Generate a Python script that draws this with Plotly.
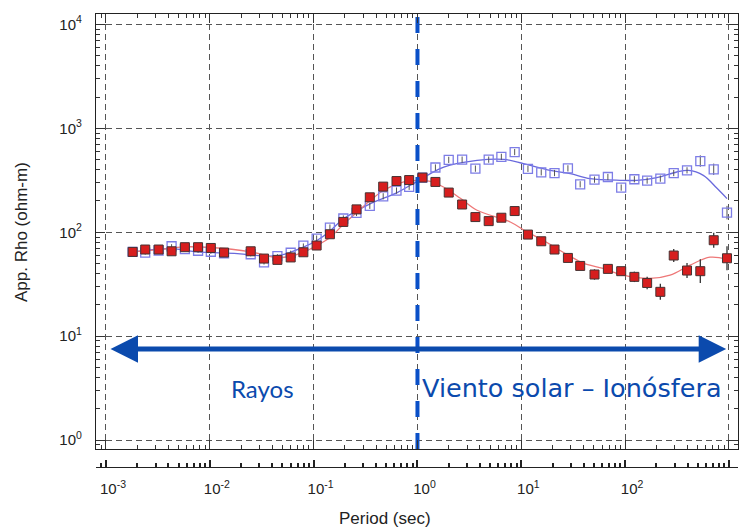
import numpy as np
import plotly.graph_objects as go

# ---------------- data ----------------
period = [0.001807, 0.002388, 0.003214, 0.004285, 0.005754, 0.007709, 0.01023, 0.01371,
          0.02477, 0.03327, 0.04477, 0.06012, 0.07962, 0.1069, 0.1435, 0.1932, 0.2588,
          0.3475, 0.4677, 0.6281, 0.8318, 1.117, 1.489, 2.000, 2.692, 3.614, 4.853, 6.427,
          8.630, 11.59, 15.56, 20.89, 28.12, 36.90, 50.70, 68.23, 91.62, 122.7, 162.9,
          218.3, 293.8, 394.5, 529.7, 712.9, 957.2]

rho_red = [64.7, 68.2, 68.2, 65.6, 71.8, 71.8, 70.6, 63.8, 65.6, 55.8, 54.2, 57.2, 64.2,
           74.5, 95.7, 125.7, 166, 217, 275, 311, 318, 336, 305, 241, 185, 140, 128, 138,
           160, 95, 81.9, 68.2, 56.6, 47.4, 39.2, 44.4, 42.2, 37.2, 32.5, 26.7, 59.7, 42.8,
           42.2, 83.8, 56.2]

rho_blue = [64.7, 63.8, 66.7, 73.3, 68.7, 66.4, 64.9, 62.8, 61.4, 51.2, 58.8, 63.5, 74.5,
            86.9, 111, 135.6, 153.5, 179.8, 221.9, 251.7, 273.8, 335.7, 420, 497.7, 500,
            409.8, 500, 532, 591.6, 408, 377.6, 371.5, 412, 289.4, 321, 340.4, 269, 323.6,
            314.4, 328.3, 371.5, 394.5, 484.8, 403.6, 154.5]

# error half-widths in decades (log10 units)
err_red = [0.02] * 33 + [0.03, 0.05, 0.04, 0.03, 0.05, 0.06, 0.077, 0.063, 0.072, 0.115,
                         0.072, 0.115]
err_blue = [0.02] * 13 + [0.03] * 29 + [0.055, 0.055, 0.065]

# smooth model curves
curve_red_x = [0.001807, 0.003162, 0.005623, 0.01023, 0.02477, 0.04477, 0.06012, 0.08071,
               0.1086, 0.1456, 0.1941, 0.2630, 0.3532, 0.4742, 0.7379, 0.9934, 1.334,
               1.778, 2.590, 3.750, 7.834, 11.34, 16.29, 21.71, 29.58, 39.43, 61.43,
               95.66, 173.8, 270.8, 421.7, 656.8, 957.2]
curve_red_y = [64.7, 67.9, 72.3, 71.3, 64.7, 56.9, 58.8, 64.7, 75.0, 90.1, 119.4, 156.6,
               203.1, 253.6, 304.8, 316.2, 309.3, 272.7, 212.3, 162.7, 125.6, 100.7, 83.8,
               70.2, 58.8, 50.4, 44.8, 38.6, 35.9, 38.6, 48.2, 57.5, 55.0]

curve_blue_x = [0.001807, 0.004217, 0.007621, 0.01846, 0.03589, 0.04819, 0.08071, 0.1086,
                0.1403, 0.1956, 0.3532, 0.6383, 0.9934, 1.791, 3.750, 6.757, 10.52, 19.00,
                29.58, 46.06, 89.54, 129.7, 201.7, 314.1, 406.4, 566.2, 767.0, 957.2]
curve_blue_y = [64.7, 69.7, 64.7, 62.4, 58.8, 60.1, 72.3, 83.8, 100.7, 135.4, 188.9, 241.1,
                309.3, 424.6, 492.0, 503.5, 457.8, 394.5, 366.6, 328.3, 316.2, 316.2, 335.7,
                380.2, 394.5, 353.2, 264.9, 210.9]

x_ticks = [1e-3, 1e-2, 1e-1, 1e0, 1e1, 1e2, 1e3]
x_ticktext = ["10<sup>-3</sup>", "10<sup>-2</sup>", "10<sup>-1</sup>", "10<sup>0</sup>",
              "10<sup>1</sup>", "10<sup>2</sup>", "10<sup>3</sup>"]
y_ticks = [1, 10, 100, 1000, 10000]
y_ticktext = ["10<sup>0</sup>", "10<sup>1</sup>", "10<sup>2</sup>", "10<sup>3</sup>",
              "10<sup>4</sup>"]

# region labels: (text, period at label centre, rho at label centre, font, size)
region_labels = [("Rayos", 0.0324, 3.16, "Lato, Noto Sans, sans-serif", 24),
                 ("Viento solar – Ionósfera", 30.5, 3.16, "DejaVu Sans, sans-serif", 25.5)]
arrow_span = (0.00107, 940.0, 7.5)   # left tip period, right tip period, rho level

# ---------------- helpers ----------------
def err_up(vals, dec):
    v, d = np.array(vals), np.array(dec)
    return list(v * (10 ** d - 1))


def err_dn(vals, dec):
    v, d = np.array(vals), np.array(dec)
    return list(v * (1 - 10 ** (-d)))


x_minor = [m * 10.0 ** e for e in range(-4, 4) for m in range(2, 10)]
y_minor = [m * 10.0 ** e for e in range(-1, 5) for m in range(2, 10)]

RED_LINE = "rgb(238,120,120)"
BLUE_LINE = "rgb(105,105,220)"
DARK_BLUE = "#0b4aad"

fig = go.Figure()

fig.add_trace(go.Scatter(x=curve_blue_x, y=curve_blue_y, mode="lines", line_shape="spline",
                         line=dict(color=BLUE_LINE, width=1.3), hoverinfo="skip"))
fig.add_trace(go.Scatter(x=curve_red_x, y=curve_red_y, mode="lines", line_shape="spline",
                         line=dict(color=RED_LINE, width=1.3), hoverinfo="skip"))

fig.add_trace(go.Scatter(
    x=period, y=rho_blue, mode="markers",
    marker=dict(symbol="square-open", size=9, color="rgb(125,125,230)",
                line=dict(width=1.3, color="rgb(125,125,230)")),
    error_y=dict(type="data", symmetric=False, array=err_up(rho_blue, err_blue),
                 arrayminus=err_dn(rho_blue, err_blue), width=0, thickness=1,
                 color="#555")))

fig.add_trace(go.Scatter(
    x=period, y=rho_red, mode="markers",
    marker=dict(symbol="square", size=9, color="rgb(215,30,30)",
                line=dict(width=1, color="rgb(70,50,50)")),
    error_y=dict(type="data", symmetric=False, array=err_up(rho_red, err_red),
                 arrayminus=err_dn(rho_red, err_red), width=0, thickness=1.3,
                 color="#333")))

# vertical dashed separator at T = 1 s
fig.add_trace(go.Scatter(x=[1, 1], y=[10 ** -0.0865, 10 ** 4.101], mode="lines",
                         line=dict(color="#0a50c8", width=4, dash="16px,16px"),
                         hoverinfo="skip"))

# dummy trace to activate the separate lower axis
fig.add_trace(go.Scatter(x=[1], y=[1], xaxis="x2", yaxis="y", mode="markers",
                         marker=dict(opacity=0), hoverinfo="skip"))

axis_common = dict(showline=True, linecolor="#222", linewidth=1.2, zeroline=False)

fig.update_layout(
    width=741, height=527,
    margin=dict(l=0, r=0, t=0, b=0),
    showlegend=False,
    plot_bgcolor="white", paper_bgcolor="white",
    font=dict(family="Liberation Sans, Arial, sans-serif", color="#222", size=15),
    xaxis=dict(type="log", range=[-3.096, 3.087], domain=[96 / 741, 738 / 741],
               anchor="y", mirror="ticks", ticks="inside", ticklen=9, tickcolor="#333",
               tickmode="array", tickvals=x_ticks, showticklabels=False,
               showgrid=True, gridcolor="#555", griddash="6px,4px", gridwidth=1,
               minor=dict(ticks="inside", ticklen=4, tickcolor="#333", tickmode="array",
                          tickvals=x_minor, showgrid=False),
               **axis_common),
    xaxis2=dict(type="log", range=[-3.096, 3.087], domain=[96 / 741, 738 / 741],
                overlaying="x", anchor="free", position=1 - 467 / 527, side="bottom",
                ticks="inside", ticklen=7, tickwidth=1.5, tickcolor="#222",
                tickmode="array", tickvals=x_ticks, ticktext=x_ticktext,
                ticklabelshift=7, ticklabelstandoff=8,
                tickfont=dict(size=15, color="#222"), showgrid=False,
                minor=dict(ticks="inside", ticklen=4, tickwidth=1.5, tickcolor="#222",
                           tickmode="array", tickvals=x_minor, showgrid=False),
                **axis_common),
    yaxis=dict(type="log", range=[-0.0865, 4.101], domain=[1 - 449 / 527, 1 - 14 / 527],
               anchor="x", mirror="ticks", ticks="inside", ticklen=9, tickcolor="#333",
               tickmode="array", tickvals=y_ticks, ticktext=y_ticktext,
               ticklabelstandoff=10, tickfont=dict(size=15, color="#222"),
               showgrid=True, gridcolor="#555", griddash="6px,4px", gridwidth=1,
               minor=dict(ticks="inside", ticklen=4, tickcolor="#333", tickmode="array",
                          tickvals=y_minor, showgrid=False),
               **axis_common),
)

# axis titles
fig.add_annotation(text="Period (sec)", xref="paper", yref="paper", x=385 / 741,
                   y=1 - 518 / 527, xanchor="center", yanchor="middle", showarrow=False,
                   font=dict(size=17, color="#222"))
fig.add_annotation(text="App. Rho (ohm-m)", xref="paper", yref="paper", x=22 / 741,
                   y=1 - 232 / 527, xanchor="center", yanchor="middle", showarrow=False,
                   textangle=-90, font=dict(size=17, color="#222"))

# double-headed arrow (annotation coordinates on log axes are log10 values)
x_left, x_right, y_arrow = arrow_span
fig.add_annotation(x=np.log10(x_right), y=np.log10(y_arrow), ax=np.log10(x_left),
                   ay=np.log10(y_arrow), xref="x", yref="y", axref="x", ayref="y",
                   text="", showarrow=True, arrowhead=2, arrowside="end+start",
                   arrowsize=1.1, arrowwidth=5, arrowcolor=DARK_BLUE)

for txt, px_, py_, fam, fs in region_labels:
    fig.add_annotation(text=txt, x=np.log10(px_), y=np.log10(py_), xref="x", yref="y",
                       xanchor="center", yanchor="middle", showarrow=False,
                       font=dict(family=fam, size=fs, color=DARK_BLUE))

fig.write_html("out.html")
